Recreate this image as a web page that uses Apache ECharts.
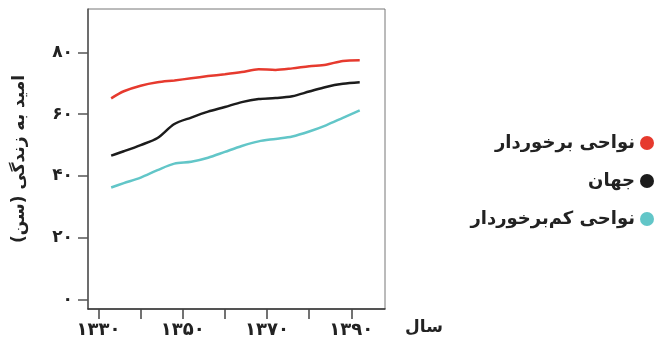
<!DOCTYPE html>
<html>
<head>
<meta charset="utf-8">
<script src="https://cdn.jsdelivr.net/npm/echarts@6/dist/echarts.min.js"></script>
<style>html,body{margin:0;padding:0;background:#fff}#c{width:661px;height:345px}</style>
</head>
<body>
<div id="c"></div>
<script>
var years = [1333, 1336, 1340, 1344, 1348, 1352, 1356, 1360, 1364, 1368, 1372, 1376, 1380, 1384, 1388, 1392];
var seriesNames = ['نواحی برخوردار', 'جهان', 'نواحی کم‌برخوردار'];
var developed = [65.1, 67.4, 69.2, 70.3, 70.9, 71.6, 72.3, 72.9, 73.6, 74.5, 74.3, 74.8, 75.5, 76.0, 77.2, 77.4];
var world = [46.6, 48.0, 50.0, 52.3, 56.8, 58.9, 60.8, 62.3, 63.9, 64.9, 65.2, 65.8, 67.3, 68.8, 69.8, 70.3];
var lessDeveloped = [36.3, 37.7, 39.5, 41.9, 44.0, 44.6, 45.9, 47.8, 49.7, 51.2, 52.0, 52.8, 54.4, 56.4, 58.8, 61.2];
var xTicks = [1330, 1340, 1350, 1360, 1370, 1380, 1390];
var xLabels = [1330, 1350, 1370, 1390];
var yTicks = [0, 20, 40, 60, 80];
var xName = 'سال';
var yName = 'امید به زندگی (سن)';
var colors = ['#e63a2e', '#1c1c1c', '#62c6c8'];

function fa(n) {
  var d = '۰۱۲۳۴۵۶۷۸۹';
  return String(n).replace(/[0-9]/g, function (c) { return d[+c]; });
}
function pairs(arr) { return years.map(function (y, i) { return [y, arr[i]]; }); }

var chart = echarts.init(document.getElementById('c'), null, {renderer: 'canvas'});
var font = 'DejaVu Sans';
chart.setOption({
  animation: false,
  color: colors,
  textStyle: {fontFamily: font},
  grid: {left: 88, top: 9, right: 276, bottom: 36, show: true, borderColor: '#777', borderWidth: 1},
  legend: {
    orient: 'vertical', right: 2, top: 129, align: 'right',
    itemWidth: 14, itemHeight: 14, itemGap: 20, icon: 'circle',
    textStyle: {fontSize: 18, fontWeight: 'bold', color: '#222', fontFamily: font},
    data: seriesNames
  },
  xAxis: {
    type: 'value', min: 1327.5, max: 1398,
    name: xName, nameLocation: 'end', nameGap: 20,
    nameTextStyle: {fontSize: 17, fontWeight: 'bold', color: '#222', verticalAlign: 'top', padding: [10, 0, 0, 0]},
    axisLine: {show: true, onZero: false, lineStyle: {color: '#333', width: 1.5}},
    axisTick: {show: true, inside: false, length: 10, customValues: xTicks, lineStyle: {color: '#444', width: 1.5}},
    axisLabel: {customValues: xLabels, margin: 12, fontSize: 18, fontWeight: 'bold', color: '#222', formatter: function (v) { return fa(v); }},
    splitLine: {show: false}
  },
  yAxis: {
    type: 'value', min: -3, max: 94,
    name: yName, nameLocation: 'middle', nameGap: 60,
    nameTextStyle: {fontSize: 17, fontWeight: 'bold', color: '#222'},
    axisLine: {show: true, onZero: false, lineStyle: {color: '#555', width: 1.5}},
    axisTick: {show: true, inside: false, length: 10, customValues: yTicks, lineStyle: {color: '#555', width: 1.5}},
    axisLabel: {customValues: yTicks, margin: 15, fontSize: 17, fontWeight: 'bold', color: '#222', formatter: function (v) { return fa(v); }},
    splitLine: {show: false}
  },
  series: [
    {name: seriesNames[0], type: 'line', data: pairs(developed), smooth: 0.3, symbol: 'none', lineStyle: {width: 2.5}},
    {name: seriesNames[1], type: 'line', data: pairs(world), smooth: 0.3, symbol: 'none', lineStyle: {width: 2.5}},
    {name: seriesNames[2], type: 'line', data: pairs(lessDeveloped), smooth: 0.3, symbol: 'none', lineStyle: {width: 2.5}}
  ]
});
</script>
</body>
</html>
